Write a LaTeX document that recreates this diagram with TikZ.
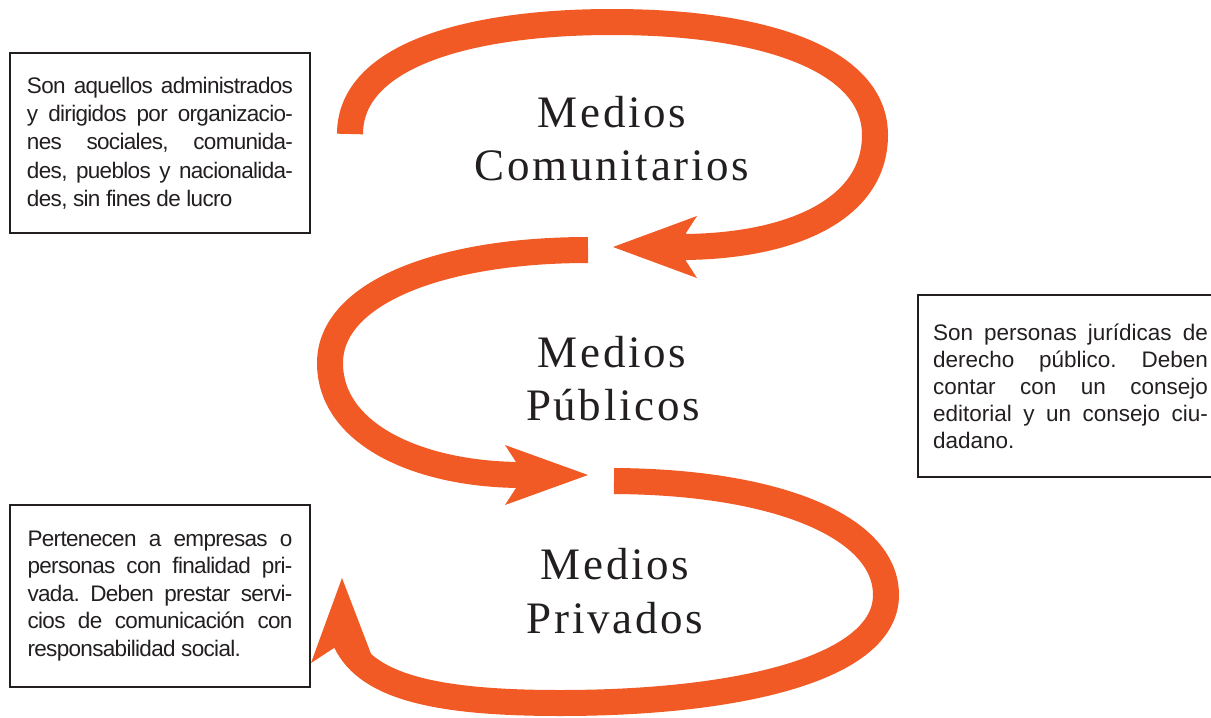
\documentclass[tikz,border=0pt]{standalone}
\usepackage{fontspec}
\setmainfont{Liberation Sans}
\newfontfamily\titlefont[LetterSpace=6]{Liberation Serif}
\newfontfamily\boxfont[LetterSpace=-3]{Liberation Sans}
\newfontfamily\boxfontwide[LetterSpace=0]{Liberation Sans}
\definecolor{orng}{RGB}{241,90,36}
\definecolor{ink}{RGB}{35,31,32}
\setlength\parindent{0pt}
\frenchspacing
\newcommand\jlA[1]{{\frenchspacing\spaceskip=0pt\xspaceskip=0pt\makebox[266pt][s]{#1}}\par}
\newcommand\jlB[1]{{\frenchspacing\spaceskip=0pt\xspaceskip=0pt\makebox[275pt][s]{#1}}\par}
\newcommand\jlC[1]{{\frenchspacing\spaceskip=0pt\xspaceskip=0pt\makebox[265pt][s]{#1}}\par}
\begin{document}
\begin{tikzpicture}[x=1pt,y=-1pt]
\tikzset{
  shaft/.style={draw=orng, line width=26pt, line cap=butt},
  head/.style={fill=orng, draw=none},
  title/.style={font=\titlefont\fontsize{45}{50}\selectfont, text=ink, anchor=base, inner sep=0pt},
  infobox/.style={draw=ink, line width=2pt, text=ink, font=\boxfont\fontsize{22.5}{27.5}\selectfont,
    align=justify, inner ysep=0pt, anchor=center}
}
\useasboundingbox (0,0) rectangle (1211,718);
% loop 1 : Comunitarios
\draw[shaft] (350,134) .. controls (350,55) and (470,22) .. (612,22)
  .. controls (770,22) and (875,62) .. (875,135)
  .. controls (875,210) and (790,247) .. (680,247);
\fill[head] (613,247) -- (697,216) -- (686,233) -- (686,261) -- (697,278) -- cycle;
% loop 2 : Publicos
\draw[shaft] (588,250) .. controls (440,250) and (330,293) .. (330,363)
  .. controls (330,435) and (420,475) .. (523,475);
\fill[head] (588,475) -- (505,445) -- (516,462) -- (516,488) -- (505,505) -- cycle;
% loop 3 : Privados
\draw[shaft] (614,481) .. controls (780,482) and (886,528) .. (886,595)
  .. controls (886,668) and (740,703) .. (560,703)
  .. controls (440,703) and (368,688) .. (346,642);
\fill[head] (342,578) -- (373,659) -- (358,648) -- (334,648) -- (311,663) -- cycle;
% titles
\node[title] (m1) at (612,127) {Medios};
\node[title] (c1) at (612,180) {Comunitarios};
\node[title] (m2) at (612,367) {Medios};
\node[title] (p2) at (613,420) {Públicos};
\node[title] (m3) at (615,579) {Medios};
\node[title] (p3) at (615,633) {Privados};
% boxes
\node[infobox, text width=266pt, inner xsep=17pt, minimum width=300pt, minimum height=180pt,
  font=\boxfont\fontsize{22.5}{28.3}\selectfont] (b1) at (160,143) {%
\jlA{Son aquellos administrados}
\jlA{y dirigidos por organizacio-}
\jlA{nes sociales, comunida-}
\jlA{des, pueblos y nacionalida-}
des, sin fines de lucro};
\node[infobox, text width=275pt, inner xsep=15pt, minimum width=305pt, minimum height=182pt,
  font=\boxfontwide\fontsize{22.5}{27}\selectfont] (b2) at (1070.5,386) {%
\jlB{Son personas jurídicas de}
\jlB{derecho público. Deben}
\jlB{contar con un consejo}
\jlB{editorial y un consejo ciu-}
dadano.};
\node[infobox, text width=265pt, inner xsep=17.5pt, minimum width=300pt, minimum height=182pt] (b3) at (160,596) {%
\jlC{Pertenecen a empresas o}
\jlC{personas con finalidad pri-}
\jlC{vada. Deben prestar servi-}
\jlC{cios de comunicación con}
responsabilidad social.};
\end{tikzpicture}
\end{document}
